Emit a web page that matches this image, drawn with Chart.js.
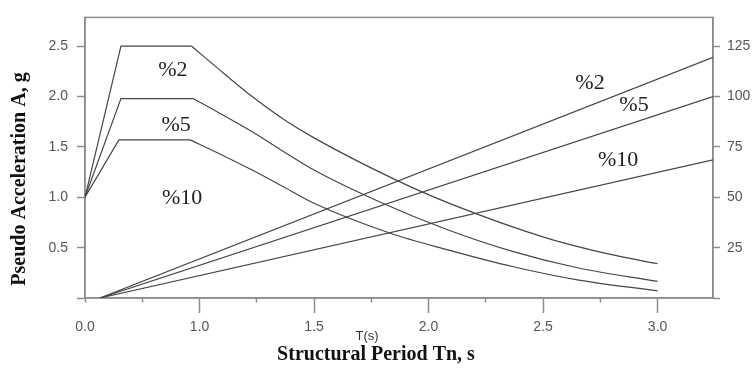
<!DOCTYPE html>
<html>
<head>
<meta charset="utf-8">
<script src="https://cdn.jsdelivr.net/npm/chart.js@4"></script>
<style>
  body { margin: 0; background: #fff; }
  #wrap { width: 755px; height: 374px; }
</style>
</head>
<body>
<div id="wrap"><canvas id="spec" width="755" height="374"></canvas></div>
<script>
// x axis: tick positions and the labels printed under them
const periodTicks = [0.5, 1.0, 1.5, 2.0, 2.5, 3.0];
const periodTickLabels = ['0.0', '1.0', '1.5', '2.0', '2.5', '3.0'];

// acceleration spectra (left axis, g): rise + plateau, then decay
const rise2 = [[0.5, 1.0], [0.657, 2.5], [0.966, 2.5]];
const rise5 = [[0.5, 1.0], [0.657, 1.98], [0.972, 1.98]];
const rise10 = [[0.5, 1.0], [0.648, 1.57], [0.959, 1.57]];

const decay2 = [[0.966, 2.5], [1.08, 2.28], [1.23, 2.0], [1.37, 1.77], [1.5, 1.59], [1.85, 1.18],
                [2.08, 0.95], [2.51, 0.60], [2.80, 0.43], [3.0, 0.34]];
const decay5 = [[0.972, 1.98], [1.08, 1.845], [1.23, 1.65], [1.37, 1.45], [1.5, 1.27], [1.78, 0.96],
                [2.08, 0.68], [2.37, 0.46], [2.65, 0.30], [3.0, 0.165]];
const decay10 = [[0.959, 1.57], [1.08, 1.44], [1.23, 1.27], [1.37, 1.10], [1.5, 0.94], [1.83, 0.645],
                 [2.08, 0.48], [2.37, 0.31], [2.65, 0.18], [3.0, 0.07]];

// displacement lines (right axis)
const disp2 = [[0.565, 0], [3.242, 119.5]];
const disp5 = [[0.565, 0], [3.242, 100]];
const disp10 = [[0.565, 0], [3.242, 68.6]];

const LINE = '#454545';
const FRAME = '#8c8c8c';
const TICK_TXT = '#555';

function pts(arr) { return arr.map(p => ({ x: p[0], y: p[1] })); }

function ds(arr, axis, smooth) {
    return {
        data: pts(arr),
        yAxisID: axis,
        borderColor: LINE,
        borderWidth: 1.2,
        pointRadius: 0,
        tension: 0,
        cubicInterpolationMode: smooth ? 'monotone' : 'default',
        fill: false
    };
}

// text drawn over the plot: curve tags (data coords) and axis titles
const notes = [
    { t: '%2', x: 0.884, y: 2.26 },
    { t: '%5', x: 0.898, y: 1.718 },
    { t: '%10', x: 0.924, y: 0.99 },
    { t: '%2', x: 2.705, y: 2.128 },
    { t: '%5', x: 2.897, y: 1.918 },
    { t: '%10', x: 2.828, y: 1.365 }
];

const decorPlugin = {
    id: 'decor',
    beforeDatasetsDraw(chart) {
        const { ctx, chartArea: a } = chart;
        ctx.save();
        ctx.strokeStyle = FRAME;
        ctx.lineWidth = 1.5;
        ctx.strokeRect(a.left, a.top, a.right - a.left, a.bottom - a.top);
        ctx.restore();
    },
    afterDraw(chart) {
        const { ctx, scales } = chart;
        ctx.save();
        ctx.fillStyle = '#222';
        ctx.textAlign = 'center';
        ctx.textBaseline = 'middle';
        ctx.font = '22px "Liberation Serif", serif';
        notes.forEach(n => {
            ctx.fillText(n.t, scales.x.getPixelForValue(n.x), scales.y.getPixelForValue(n.y));
        });

        ctx.font = 'bold 20px "Liberation Serif", serif';
        ctx.fillStyle = '#111';
        ctx.fillText('Structural Period Tn, s', 376, 355);

        ctx.font = '13px "Liberation Sans", Arial, sans-serif';
        ctx.fillStyle = '#333';
        ctx.fillText('T(s)', 367, 336);

        ctx.translate(20, 179);
        ctx.rotate(-Math.PI / 2);
        ctx.font = 'bold 20px "Liberation Serif", serif';
        ctx.fillStyle = '#111';
        ctx.fillText('Pseudo Acceleration A, g', 0, 0);
        ctx.restore();
    }
};

const tickFont = { family: '"Liberation Sans", Arial, sans-serif', size: 14 };

new Chart(document.getElementById('spec'), {
    type: 'line',
    data: {
        datasets: [
            ds(rise2, 'y'), ds(rise5, 'y'), ds(rise10, 'y'),
            ds(decay2, 'y', true), ds(decay5, 'y', true), ds(decay10, 'y', true),
            ds(disp2, 'y1'), ds(disp5, 'y1'), ds(disp10, 'y1')
        ]
    },
    options: {
        responsive: false,
        animation: false,
        devicePixelRatio: 1,
        layout: { padding: { top: 6, left: 0, right: 0, bottom: 0 } },
        plugins: { legend: { display: false }, tooltip: { enabled: false } },
        scales: {
            x: {
                type: 'linear',
                min: 0.5,
                max: 3.242,
                afterFit: s => { s.height = 76; },
                afterBuildTicks: s => {
                    const t = [];
                    for (let v = 0.5; v <= 3.0001; v += 0.25) t.push({ value: Math.round(v * 100) / 100 });
                    s.ticks = t;
                },
                ticks: {
                    autoSkip: false,
                    maxRotation: 0,
                    padding: 6,
                    color: TICK_TXT,
                    font: tickFont,
                    callback: v => {
                        const i = periodTicks.indexOf(v);
                        return i >= 0 ? periodTickLabels[i] : '';
                    }
                },
                grid: {
                    drawOnChartArea: false,
                    tickLength: 15,
                    tickColor: FRAME,
                    tickWidth: 1.5,
                    tickBorderDash: c => (c.tick && periodTicks.indexOf(c.tick.value) >= 0 && c.tick.value > 0.5) ? [] : [4, 40]
                },
                border: { color: FRAME, width: 1.5 }
            },
            y: {
                position: 'left',
                min: 0,
                max: 2.786,
                afterFit: s => { s.width = 85; },
                ticks: {
                    stepSize: 0.5,
                    includeBounds: false,
                    padding: 9,
                    color: TICK_TXT,
                    font: tickFont,
                    callback: v => v === 0 ? '' : v.toFixed(1)
                },
                grid: { drawOnChartArea: false, tickLength: 8, tickColor: FRAME, tickWidth: 1.5 },
                border: { color: FRAME, width: 1.5 }
            },
            y1: {
                position: 'right',
                min: 0,
                max: 139.3,
                afterFit: s => { s.width = 42; },
                ticks: {
                    stepSize: 25,
                    includeBounds: false,
                    padding: 7,
                    color: TICK_TXT,
                    font: tickFont,
                    callback: v => v === 0 ? '' : String(v)
                },
                grid: { drawOnChartArea: false, tickLength: 7, tickColor: FRAME, tickWidth: 1.5 },
                border: { color: FRAME, width: 1.5 }
            }
        }
    },
    plugins: [decorPlugin]
});
</script>
</body>
</html>
